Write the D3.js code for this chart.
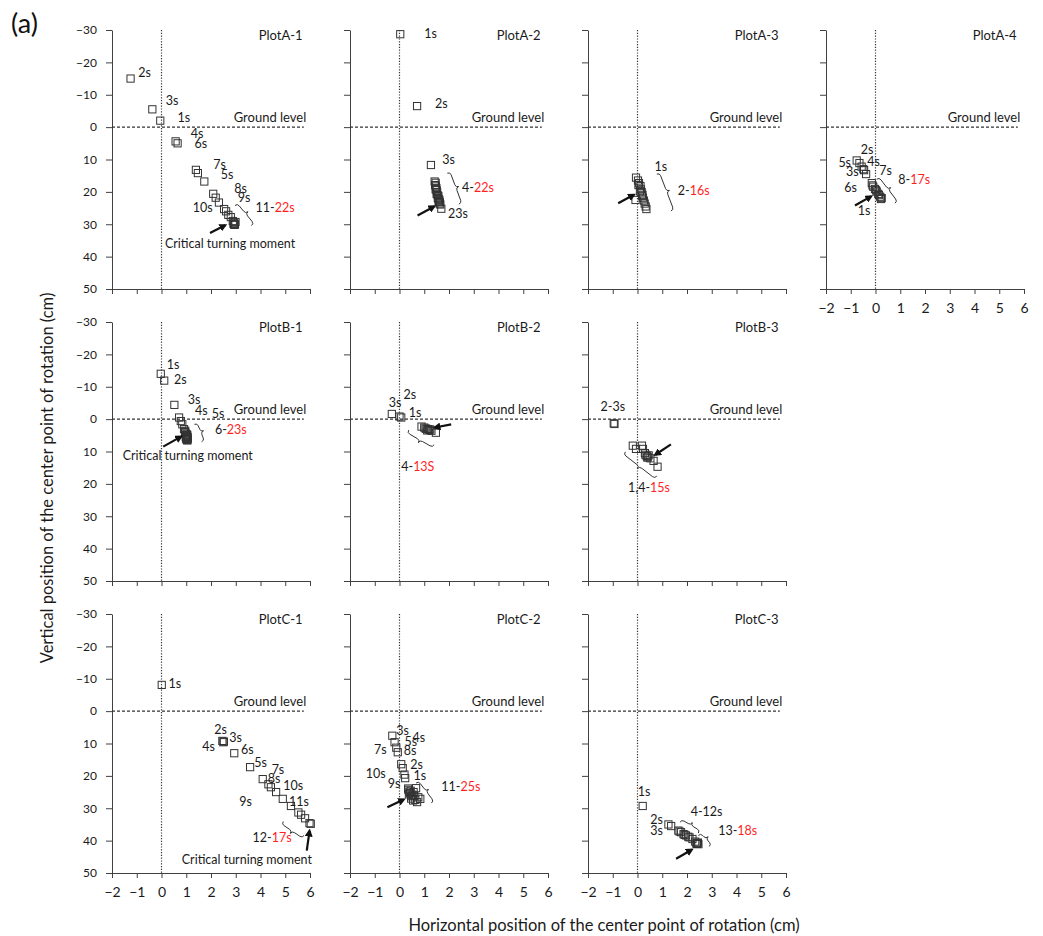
<!DOCTYPE html>
<html>
<head>
<meta charset="utf-8">
<script src="https://cdn.jsdelivr.net/npm/d3@7"></script>
<style>
  body { margin: 0; background: #fff; }
  text { font-family: Lato, 'Open Sans', sans-serif; }
</style>
</head>
<body>
<svg width="1043" height="936"></svg>
<script>
const svg = d3.select('svg');
svg.style('background-color', 'white');

// tick values
const xTicks = [-2, -1, 0, 1, 2, 3, 4, 5, 6];
const yTicks = [-30, -20, -10, 0, 10, 20, 30, 40, 50];

// points [horizontal cm, vertical cm]
const pointsA1 = [[-0.05,-2],[-1.25,-15],[-0.37,-5.5],[0.57,4.4],[1.47,14.2],[0.65,5.0],[1.39,13.2],[1.73,16.8],[2.09,20.6],[2.19,21.8],
  [2.32,23.3],[2.53,25.3],[2.61,26.0],[2.70,27.1],[2.80,27.8],[2.88,29.0],[2.92,29.5],[2.95,29.8],[2.97,30.1],[2.91,29.9],[2.99,29.3],[2.94,30.2]];
const pointsA2 = [[0.03,-28.7],[0.71,-6.5],[1.27,11.7],[1.42,16.8],[1.46,17.2],[1.44,17.9],[1.47,18.3],[1.49,18.8],[1.46,19.2],[1.50,19.5],
  [1.52,20.1],[1.50,20.6],[1.54,21.0],[1.57,21.3],[1.55,21.9],[1.58,22.2],[1.61,22.5],[1.60,23.0],[1.63,23.2],[1.62,23.6],[1.65,23.9],[1.58,22.9],[1.69,25.2]];
const pointsA3 = [[-0.06,15.6],[0.02,16.5],[0.06,17.3],[0.04,17.9],[0.12,18.2],[0.14,19.2],[0.10,19.8],[0.17,20.1],[0.20,20.9],[0.22,21.8],
  [0.26,22.7],[0.29,23.6],[0.33,24.5],[0.36,25.3],[-0.08,22.5],[0.18,21.2]];
const pointsA4 = [[-0.76,10.3],[-0.65,11.1],[-0.56,12.2],[-0.46,13.3],[-0.38,14.5],[-0.15,17.3],[-0.09,18.4],[-0.02,19.1],[0.05,19.9],[0.11,20.6],
  [0.19,21.5],[0.25,21.9],[-0.12,18.0],[0.02,19.5],[0.14,21.0],[0.22,22.2],[-0.49,13.0]];
const pointsB1 = [[-0.03,-14.0],[0.11,-11.9],[0.52,-4.4],[0.71,-0.5],[0.78,0.6],[0.84,1.6],[0.91,3.1],[0.95,4.0],[0.99,4.9],[1.02,5.7],
  [1.04,6.6],[0.97,4.4],[1.01,5.2],[1.03,5.9],[1.05,5.5],[1.00,6.1],[1.03,4.7],[1.06,6.3],[0.98,5.6],[1.04,5.0],[1.02,6.4],[1.05,5.8],[0.96,3.6]];
const pointsB2 = [[-0.31,-1.6],[0.0,-0.8],[0.07,-0.5],[0.89,2.3],[1.0,2.6],[1.09,3.0],[1.2,3.3],[1.29,3.6],[1.47,4.2],[1.05,2.9],
  [1.15,3.1],[1.12,3.5],[1.24,3.2]];
const pointsB3 = [[-0.19,8.2],[-0.96,1.3],[-0.93,1.5],[-0.06,9.2],[0.18,8.2],[0.22,9.2],[0.32,11.0],[0.41,11.6],[0.52,12.1],[0.65,12.9],
  [0.81,14.7],[0.37,11.4],[0.45,11.2],[0.40,11.9],[0.30,10.5]];
const pointsC1 = [[0.01,-8.1],[2.46,9.2],[2.50,9.6],[2.52,9.4],[2.94,13.0],[3.58,17.3],[4.09,21.0],[4.32,22.6],[4.42,23.5],[4.63,25.0],
  [4.90,27.1],[5.23,29.3],[5.53,31.3],[5.64,32.0],[5.80,33.1],[6.03,34.8],[5.98,34.6]];
const pointsC2 = [[-0.29,7.6],[-0.2,9.6],[-0.13,11.3],[-0.07,12.7],[0.07,16.4],[0.13,17.6],[0.2,19.6],[0.23,20.7],[0.36,24.3],[0.43,25.3],
  [0.49,26.3],[0.57,25.0],[0.64,27.4],[0.71,28.1],[0.76,26.6],[0.84,27.1],[0.67,23.8],[0.40,24.9],[0.52,25.8],[0.47,27.0],
  [0.60,26.2],[0.38,25.7],[0.55,27.6],[0.45,24.6],[0.35,23.9]];
const pointsC3 = [[0.21,29.3],[1.25,35.0],[1.36,35.5],[1.65,36.9],[1.76,37.4],[1.86,38.0],[1.96,38.4],[2.10,39.0],[2.22,39.5],[2.33,40.3],
  [2.42,40.8],[2.46,41.1],[1.70,37.2],[1.90,38.2],[2.05,38.8],[2.40,41.0],[2.44,40.6],[2.38,40.9]];

// time labels [black text, red text, x, y]
const labelsA1 = [['2s','',-0.94,-16.9],['3s','',0.17,-8.2],['1s','',0.65,-2.9],['4s','',1.18,1.9],['6s','',1.33,5.0],['7s','',2.09,11.7],
  ['5s','',2.39,14.8],['8s','',2.94,18.9],['9s','',3.08,21.8],['10s','',1.26,25.0],['11-','22s',3.80,25.0],['Critical turning moment','',0.14,36.1]];
const labelsA2 = [['1s','',1.0,-29.0],['2s','',1.43,-7.4],['3s','',1.73,9.9],['4-','22s',2.53,18.7],['23s','',1.96,26.6]];
const labelsA3 = [['1s','',0.69,12.2],['2-','16s',1.63,19.7]];
const labelsA4 = [['2s','',-0.60,7.0],['5s','',-1.50,11.1],['4s','',-0.33,10.6],['3s','',-1.19,13.7],['7s','',0.15,13.5],['8-','17s',0.92,16.1],
  ['6s','',-1.26,18.6],['1s','',-0.72,25.9]];
const labelsB1 = [['1s','',0.21,-16.9],['2s','',0.51,-12.1],['3s','',1.06,-5.9],['4s','',1.35,-2.5],['5s','',2.03,-1.6],['6-','23s',2.16,3.3],
  ['Critical turning moment','',-1.57,11.4]];
const labelsB2 = [['3s','',-0.43,-5.2],['2s','',0.16,-7.5],['1s','',0.37,-2.1],['4-','13S',0.07,14.7]];
const labelsB3 = [['2-3s','',-1.49,-3.9],['1,4-','15s',-0.38,21.1]];
const labelsC1 = [['1s','',0.28,-8.6],['2s','',2.13,5.8],['3s','',2.74,8.2],['4s','',1.65,11.1],['6s','',3.21,12.0],['5s','',3.75,15.9],
  ['7s','',4.45,18.1],['8s','',4.29,20.7],['10s','',4.92,22.9],['9s','',3.14,28.1],['11s','',5.15,28.1],['12-','17s',3.68,39.2],
  ['Critical turning moment','',0.82,45.9]];
const labelsC2 = [['3s','',-0.13,6.0],['5s','',0.2,9.4],['4s','',0.53,8.1],['7s','',-1.03,12.0],['8s','',0.17,12.2],['2s','',0.43,16.6],
  ['10s','',-1.36,19.2],['1s','',0.57,20.0],['9s','',-0.47,22.3],['11-','25s',1.69,23.3]];
const labelsC3 = [['1s','',0.01,24.8],['2s','',0.52,33.6],['3s','',0.52,36.9],['4-12s','',2.15,31.0],['13-','18s',3.26,37.0]];

// brackets [x1, y1, x2, y2, side] and arrows [fromX, fromY, toX, toY]
const bracketsA1 = [[2.97,24.2,3.64,30.4,-1]];
const bracketsA2 = [[1.93,14.2,2.40,23.8,-1]];
const bracketsA3 = [[0.78,14.5,1.35,25.9,-1]];
const bracketsA4 = [[0.05,16.1,0.79,23.5,-1]];
const bracketsB1 = [[1.33,1.6,1.62,7.0,-1]];
const bracketsB2 = [[0.37,3.4,1.40,7.9,1]];
const bracketsB3 = [[-0.49,10.1,0.78,17.6,1]];
const bracketsC1 = [[4.92,34.1,5.76,38.4,1]];
const bracketsC2 = [[0.67,22.2,1.29,28.4,-1]];
const bracketsC3 = [[1.72,34.3,2.46,37.7,-1],[2.46,38.4,2.90,41.8,-1]];

const arrowsA1 = [[1.96,32.7,2.57,30.3]];
const arrowsA2 = [[0.73,27.3,1.40,24.5]];
const arrowsA3 = [[-0.78,23.5,-0.15,20.9]];
const arrowsA4 = [[-0.83,24.2,-0.18,21.4]];
const arrowsB1 = [[0.07,8.5,0.79,5.4]];
const arrowsB2 = [[2.09,1.6,1.43,2.6]];
const arrowsB3 = [[1.35,7.8,0.72,11.0]];
const arrowsC1 = [[5.87,43.1,5.98,37.0]];
const arrowsC2 = [[-0.49,29.7,0.17,27.3]];
const arrowsC3 = [[1.56,45.6,2.19,42.8]];

const panels = [
  { name: 'PlotA-1', row: 0, col: 0, points: pointsA1, labels: labelsA1, brackets: bracketsA1, arrows: arrowsA1 },
  { name: 'PlotA-2', row: 0, col: 1, points: pointsA2, labels: labelsA2, brackets: bracketsA2, arrows: arrowsA2 },
  { name: 'PlotA-3', row: 0, col: 2, points: pointsA3, labels: labelsA3, brackets: bracketsA3, arrows: arrowsA3 },
  { name: 'PlotA-4', row: 0, col: 3, points: pointsA4, labels: labelsA4, brackets: bracketsA4, arrows: arrowsA4, xLabels: true },
  { name: 'PlotB-1', row: 1, col: 0, points: pointsB1, labels: labelsB1, brackets: bracketsB1, arrows: arrowsB1 },
  { name: 'PlotB-2', row: 1, col: 1, points: pointsB2, labels: labelsB2, brackets: bracketsB2, arrows: arrowsB2 },
  { name: 'PlotB-3', row: 1, col: 2, points: pointsB3, labels: labelsB3, brackets: bracketsB3, arrows: arrowsB3 },
  { name: 'PlotC-1', row: 2, col: 0, points: pointsC1, labels: labelsC1, brackets: bracketsC1, arrows: arrowsC1, xLabels: true },
  { name: 'PlotC-2', row: 2, col: 1, points: pointsC2, labels: labelsC2, brackets: bracketsC2, arrows: arrowsC2, xLabels: true },
  { name: 'PlotC-3', row: 2, col: 2, points: pointsC3, labels: labelsC3, brackets: bracketsC3, arrows: arrowsC3, xLabels: true }
];

const plotW = 198;
const plotH = 259;
const left0 = 112, top0 = 30, colStep = 238, rowStep = 292;
const ink = '#1a1a1a';
const axisInk = '#404040';

const x = d3.scaleLinear().domain([-2, 6]).range([0, plotW]);
const y = d3.scaleLinear().domain([-30, 50]).range([0, plotH]);

svg.append('defs').append('marker')
  .attr('id', 'arrowhead')
  .attr('viewBox', '0 0 10 10')
  .attr('refX', 7).attr('refY', 5)
  .attr('markerWidth', 3.6).attr('markerHeight', 3.6)
  .attr('orient', 'auto')
  .append('path')
    .attr('d', 'M0,0 L10,5 L0,10 z')
    .attr('fill', '#111');

// curly bracket between two data points, tip pointing to the label side
const bracePath = ([x1, y1, x2, y2, side]) => {
  const ax = x(x1), ay = y(y1), bx = x(x2), by = y(y2);
  const len = Math.hypot(bx - ax, by - ay);
  const ux = (bx - ax) / len, uy = (by - ay) / len;
  const nx = -uy * side, ny = ux * side;
  const h = 3;
  const mx = (ax + bx) / 2, my = (ay + by) / 2;
  return `M${ax},${ay}` +
    ` Q${ax + nx*h},${ay + ny*h} ${ax + nx*h + ux*h},${ay + ny*h + uy*h}` +
    ` L${mx + nx*h - ux*h},${my + ny*h - uy*h}` +
    ` Q${mx + nx*h},${my + ny*h} ${mx + nx*2*h},${my + ny*2*h}` +
    ` Q${mx + nx*h},${my + ny*h} ${mx + nx*h + ux*h},${my + ny*h + uy*h}` +
    ` L${bx + nx*h - ux*h},${by + ny*h - uy*h}` +
    ` Q${bx + nx*h},${by + ny*h} ${bx},${by}`;
};

const renderPanel = (panel) => {
  const g = svg.append('g')
    .attr('class', 'panel')
    .attr('transform', `translate(${left0 + panel.col * colStep}, ${top0 + panel.row * rowStep})`);

  const yAxis = d3.axisLeft(y)
    .tickValues(yTicks)
    .tickSize(6)
    .tickSizeOuter(0)
    .tickPadding(9)
    .tickFormat(panel.col === 0 ? d3.format('d') : () => '');
  const yAxisG = g.append('g').call(yAxis);
  yAxisG.selectAll('text')
    .attr('font-family', "'DejaVu Sans', sans-serif")
    .attr('font-size', 12)
    .attr('fill', ink);

  const xAxis = d3.axisBottom(x)
    .tickValues(xTicks)
    .tickSize(5)
    .tickSizeOuter(0)
    .tickPadding(9)
    .tickFormat(panel.xLabels ? d3.format('d') : () => '');
  const xAxisG = g.append('g')
    .attr('transform', `translate(0, ${plotH})`)
    .call(xAxis);
  xAxisG.selectAll('text')
    .attr('font-family', "Lato, sans-serif")
    .attr('font-size', 14)
    .attr('fill', ink);

  g.selectAll('.domain, .tick line')
    .attr('stroke', axisInk)
    .attr('stroke-width', 1);

  // ground level and zero line
  g.append('line')
    .attr('x1', x(-2)).attr('x2', x(5.75))
    .attr('y1', y(0)).attr('y2', y(0))
    .attr('stroke', '#333')
    .attr('stroke-width', 1.2)
    .attr('stroke-dasharray', '3,2');
  g.append('line')
    .attr('x1', x(0)).attr('x2', x(0))
    .attr('y1', y(-30)).attr('y2', y(50))
    .attr('stroke', '#333')
    .attr('stroke-width', 1.2)
    .attr('stroke-dasharray', '1.2,1.6');

  g.append('text')
    .attr('x', x(5.85))
    .attr('y', y(0) - 5)
    .attr('text-anchor', 'end')
    .attr('font-size', 13)
    .attr('fill', ink)
    .text('Ground level');

  g.append('text')
    .attr('x', x(5.7))
    .attr('y', y(-30) + 10)
    .attr('text-anchor', 'end')
    .attr('font-size', 13)
    .attr('fill', ink)
    .text(panel.name);

  g.selectAll('rect.point')
    .data(panel.points)
    .enter()
    .append('rect')
      .attr('class', 'point')
      .attr('x', d => x(d[0]) - 3.6)
      .attr('y', d => y(d[1]) - 3.6)
      .attr('width', 7.2)
      .attr('height', 7.2)
      .attr('fill', 'none')
      .attr('stroke', '#333')
      .attr('stroke-width', 1);

  const labels = g.selectAll('text.time-label')
    .data(panel.labels)
    .enter()
    .append('text')
      .attr('class', 'time-label')
      .attr('x', d => x(d[2]))
      .attr('y', d => y(d[3]))
      .attr('dy', '0.35em')
      .attr('font-size', 12.5);
  labels.append('tspan').attr('fill', ink).text(d => d[0]);
  labels.append('tspan').attr('fill', '#ff1f1f').text(d => d[1]);

  g.selectAll('path.bracket')
    .data(panel.brackets)
    .enter()
    .append('path')
      .attr('class', 'bracket')
      .attr('d', bracePath)
      .attr('fill', 'none')
      .attr('stroke', '#333')
      .attr('stroke-width', 1);

  g.selectAll('line.arrow')
    .data(panel.arrows)
    .enter()
    .append('line')
      .attr('class', 'arrow')
      .attr('x1', d => x(d[0])).attr('y1', d => y(d[1]))
      .attr('x2', d => x(d[2])).attr('y2', d => y(d[3]))
      .attr('stroke', '#111')
      .attr('stroke-width', 2.2)
      .attr('marker-end', 'url(#arrowhead)');
};

panels.forEach(renderPanel);

svg.append('text')
  .attr('x', 11)
  .attr('y', 33)
  .attr('font-size', 27)
  .attr('fill', '#111')
  .text('(a)');

svg.append('text')
  .attr('x', 604)
  .attr('y', 931)
  .attr('text-anchor', 'middle')
  .attr('font-size', 16.5)
  .attr('fill', ink)
  .text('Horizontal position of the center point of rotation (cm)');

svg.append('text')
  .attr('transform', 'translate(53, 478) rotate(-90)')
  .attr('text-anchor', 'middle')
  .attr('font-size', 16.5)
  .attr('fill', ink)
  .text('Vertical position of the center point of rotation (cm)');
</script>
</body>
</html>
